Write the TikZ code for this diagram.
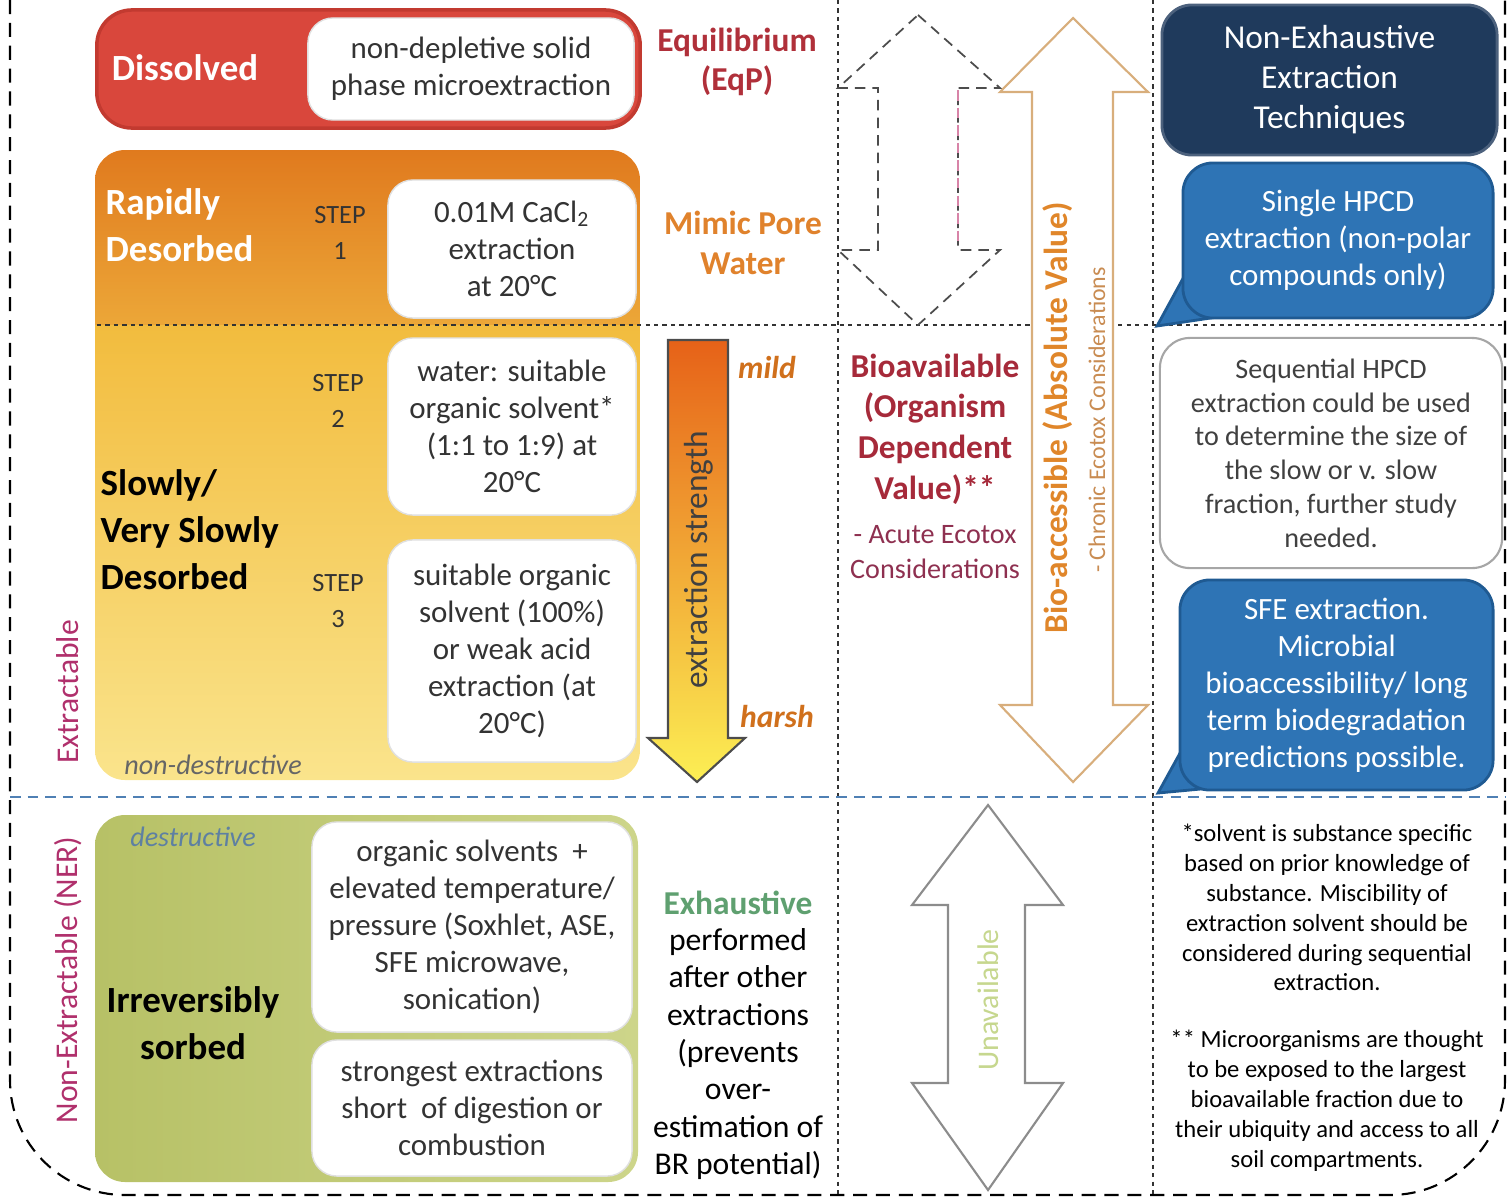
\documentclass[tikz,border=0pt]{standalone}
\usepackage{fontspec}
\setmainfont{Carlito}
\usepackage{tikz}
\usetikzlibrary{positioning}

\definecolor{redfill}{HTML}{D9473C}
\definecolor{redline}{HTML}{C23A30}
\definecolor{amberA}{HTML}{E07A1E}
\definecolor{amberB}{HTML}{ECA738}
\definecolor{amberC}{HTML}{F2BC3E}
\definecolor{amberD}{HTML}{FAE48C}
\definecolor{greenL}{HTML}{B7C166}
\definecolor{greenR}{HTML}{CDD58A}
\definecolor{navyfill}{HTML}{1F3A5C}
\definecolor{bluefill}{HTML}{2E74B5}
\definecolor{blueline}{HTML}{1F5A92}
\definecolor{eqpred}{HTML}{B0303A}
\definecolor{porewater}{HTML}{E0822C}
\definecolor{bioav}{HTML}{A62A3A}
\definecolor{acute}{HTML}{8E3050}
\definecolor{bioacc}{HTML}{E0862A}
\definecolor{chronic}{HTML}{C98C52}
\definecolor{extrmag}{HTML}{B0306C}
\definecolor{exhgreen}{HTML}{5FA070}
\definecolor{mildorange}{HTML}{D0701C}
\definecolor{unavail}{HTML}{C6D78E}
\definecolor{destrblue}{HTML}{5E80A2}
\definecolor{bodygray}{HTML}{333333}
\definecolor{tanline}{HTML}{D8AE7C}
\definecolor{pinkdash}{HTML}{D884A8}
\definecolor{bluedash}{HTML}{4F80B4}

\newcommand{\fntbody}{\fontsize{8.8}{10.5}\selectfont}
\newcommand{\fntbig}{\fontsize{10.5}{13.4}\selectfont\bfseries}
\newcommand{\fntmid}{\fontsize{9.5}{11.3}\selectfont\bfseries}
\newcommand{\fntstep}{\fontsize{7.5}{10.2}\selectfont}
\newcommand{\fntnote}{\fontsize{7}{8.5}\selectfont}
\newcommand{\fntseq}{\fontsize{8}{9.6}\selectfont}

\tikzset{
  frameline/.style={draw=black, line width=0.6pt, dash pattern=on 4pt off 2.5pt},
  divline/.style={draw=black!80, line width=0.5pt, dash pattern=on 1.2pt off 1.2pt},
  bluedivide/.style={draw=bluedash, line width=0.7pt, dash pattern=on 3pt off 2pt},
  whitebox/.style={draw=black!12, fill=white, rounded corners=0.25cm, align=center,
    inner sep=0pt, font=\fntbody, text=bodygray},
  bluebox/.style={draw=blueline, fill=bluefill, line width=0.8pt, rounded corners=0.3cm,
    align=center, inner sep=0pt, font=\fntbody, text=white},
  bluetail/.style={draw=blueline, fill=bluefill, line width=0.8pt},
  steplabel/.style={align=center, font=\fntstep, text=bodygray},
  sidelabel/.style={align=center, font=\fntmid},
  rotlabel/.style={rotate=90, anchor=center}
}

\begin{document}
\begin{tikzpicture}[x=0.01cm,y=-0.01cm]
\useasboundingbox (0,0) rectangle (1510,1203);

% frame and dividers
\draw[frameline,rounded corners=1.15cm] (10,0) -- (10,1195) -- (1505,1195) -- (1505,0);
\draw[divline] (838,0) -- (838,1195);
\draw[divline] (1153,0) -- (1153,1195);
\draw[bluedivide] (10,797) -- (1505,797);

% amber box (rapidly / slowly desorbed)
\begin{scope}
  \clip[rounded corners=0.3cm] (95,150) rectangle (640,780);
  \shade[top color=amberA,bottom color=amberB] (95,150) rectangle (640,326);
  \shade[top color=amberC,bottom color=amberD] (95,325) rectangle (640,780);
\end{scope}
\draw[divline] (97,325) -- (1505,325);

% dissolved
\node[draw=redline, fill=redfill, line width=1pt, rounded corners=0.35cm,
  minimum width=5.43cm, minimum height=1.18cm] (dissolvedbox) at (368.5,69) {};
\node[whitebox, minimum width=3.26cm, minimum height=1.02cm] (spmebox) at (471,69)
  {non-depletive solid\\phase microextraction};
\node[font=\fntbig, text=white] (dissolved) at (185,68) {Dissolved};
\node[sidelabel, text=eqpred] (eqp) at (737,62) {Equilibrium\\(EqP)};

% step boxes
\node[whitebox, minimum width=2.48cm, minimum height=1.38cm] (step1box) at (512,249)
  {0.01M CaCl\textsubscript{2}\\extraction\\at 20\textdegree C};
\node[whitebox, minimum width=2.48cm, minimum height=1.77cm] (step2box) at (512,426.5)
  {water: suitable\\organic solvent*\\(1:1 to 1:9) at\\20\textdegree C};
\node[whitebox, minimum width=2.48cm, minimum height=2.22cm] (step3box) at (512,651)
  {suitable organic\\solvent (100\%)\\or weak acid\\extraction (at\\20\textdegree C)};
\node[steplabel] (step1) at (340,233) {STEP\\1};
\node[steplabel] (step2) at (338,401) {STEP\\2};
\node[steplabel] (step3) at (338,601) {STEP\\3};
\node[font=\fntbig, text=white, align=left, anchor=west, inner sep=0pt] (rapid) at (105,225) {Rapidly\\Desorbed};
\node[font=\fntbig, text=black, align=left, anchor=west, inner sep=0pt] (slow) at (100,530) {Slowly/\\Very Slowly\\Desorbed};
\node[font=\fntseq\itshape, text=black!60] (nondestr) at (213,765) {non-destructive};
\node[sidelabel, text=porewater] (pore) at (743,243) {Mimic Pore\\Water};
\node[rotlabel, font=\fontsize{9}{10}\selectfont, text=extrmag] (extractable) at (68,692) {Extractable};

% extraction strength arrow
\shade[top color=amberA!80!red, middle color=amberB, bottom color=amberD!60!yellow, draw=black!70, line width=0.6pt]
  (668,340) -- (728,340) -- (728,738) -- (745,738) -- (697,782) -- (648,738) -- (668,738) -- cycle;
\node[rotlabel, font=\fontsize{9.5}{11}\selectfont, text=black!75] (strength) at (699,560) {extraction strength};
\node[font=\fontsize{9}{11}\selectfont\bfseries\itshape, text=mildorange] (mild) at (767,368) {mild};
\node[font=\fontsize{9}{11}\selectfont\bfseries\itshape, text=mildorange] (harsh) at (777,716) {harsh};

% irreversibly sorbed
\shade[left color=greenL, right color=greenR, rounded corners=0.3cm] (95,815) rectangle (638,1182);
\node[whitebox, minimum width=3.2cm, minimum height=2.1cm] (ner1box) at (472,927)
  {organic solvents\ \ +\\elevated temperature/\\pressure (Soxhlet, ASE,\\SFE microwave,\\sonication)};
\node[whitebox, minimum width=3.2cm, minimum height=1.36cm] (ner2box) at (472,1108)
  {strongest extractions\\short\ \ of digestion or\\combustion};
\node[font=\fntseq\itshape, text=destrblue] (destr) at (193,837) {destructive};
\node[font=\fntbig, text=black, align=center] (irrev) at (193,1023) {Irreversibly\\sorbed};
\node[rotlabel, font=\fontsize{9}{10}\selectfont, text=extrmag] (ner) at (68,980) {Non-Extractable (NER)};
\node[sidelabel, text=exhgreen] (exhaustive) at (738,903) {Exhaustive};
\node[align=center, font=\fontsize{9}{10.6}\selectfont, text=black] (exhnote) at (738,1054)
  {performed\\after other\\extractions\\(prevents\\over-\\estimation of\\BR potential)};

% availability arrows
\draw[draw=black!70, line width=0.5pt, dash pattern=on 3pt off 2pt]
  (918,15) -- (1000,88) -- (958,88) -- (958,250) -- (1000,250) -- (918,325)
  -- (838,250) -- (878,250) -- (878,88) -- (838,88) -- cycle;
\draw[draw=pinkdash, line width=0.5pt, dash pattern=on 3pt off 2pt] (958,90) -- (958,248);
\draw[draw=tanline, fill=white, line width=0.6pt]
  (1073,18) -- (1148,92) -- (1113,92) -- (1113,705) -- (1148,705) -- (1073,782)
  -- (1000,705) -- (1032,705) -- (1032,92) -- (1000,92) -- cycle;
\node[rotlabel, font=\fntmid, text=bioacc] (bioaccess) at (1058,418) {Bio-accessible (Absolute Value)};
\node[rotlabel, font=\fontsize{6.8}{8}\selectfont, text=chronic] (chronic) at (1097,420) {- Chronic Ecotox Considerations};
\node[sidelabel, text=bioav, font=\fontsize{9.5}{11.6}\selectfont\bfseries] (bioavail) at (935,429)
  {Bioavailable\\(Organism\\Dependent\\Value)**};
\node[align=center, font=\fontsize{8}{10}\selectfont, text=acute] (acute) at (935,552)
  {- Acute Ecotox\\Considerations};
\draw[draw=black!45, fill=white, line width=0.6pt]
  (988,805) -- (1063,905) -- (1025,905) -- (1025,1083) -- (1063,1083) -- (988,1190)
  -- (912,1083) -- (948,1083) -- (948,905) -- (912,905) -- cycle;
\node[rotlabel, font=\fontsize{8.5}{10}\selectfont, text=unavail] (unavailable) at (988,1000) {Unavailable};

% extraction techniques
\node[draw=navyfill!80!white, fill=navyfill, line width=0.8pt, rounded corners=0.3cm,
  minimum width=3.35cm, minimum height=1.5cm, align=center, text=white,
  font=\fontsize{9.5}{11.4}\selectfont] (nonexh) at (1329.5,80)
  {Non-Exhaustive\\Extraction\\Techniques};
\filldraw[bluetail] (1192,262) -- (1157,326) -- (1224,316) -- cycle;
\node[bluebox, minimum width=3.1cm, minimum height=1.55cm] (hpcd) at (1338,240.5)
  {Single HPCD\\extraction (non-polar\\compounds only)};
\node[draw=black!35, fill=white, line width=0.6pt, rounded corners=0.3cm,
  minimum width=3.42cm, minimum height=2.3cm, align=center, text=black!75, font=\fntseq] (seqhpcd) at (1331,453)
  {Sequential HPCD\\extraction could be used\\to determine the size of\\the slow or v. slow\\fraction, further study\\needed.};
\filldraw[bluetail] (1190,735) -- (1158,793) -- (1222,787) -- cycle;
\node[bluebox, minimum width=3.13cm, minimum height=2.1cm] (sfe) at (1336.5,685)
  {SFE extraction.\\Microbial\\bioaccessibility/ long\\term biodegradation\\predictions possible.};

% footnotes
\node[align=center, font=\fntnote, text=black] (note1) at (1327,907.5)
  {*solvent is substance specific\\based on prior knowledge of\\substance. Miscibility of\\extraction solvent should be\\considered during sequential\\extraction.};
\node[align=center, font=\fntnote, text=black] (note2) at (1327,1101)
  {** Microorganisms are thought\\to be exposed to the largest\\bioavailable fraction due to\\their ubiquity and access to all\\soil compartments.};
\end{tikzpicture}
\end{document}
